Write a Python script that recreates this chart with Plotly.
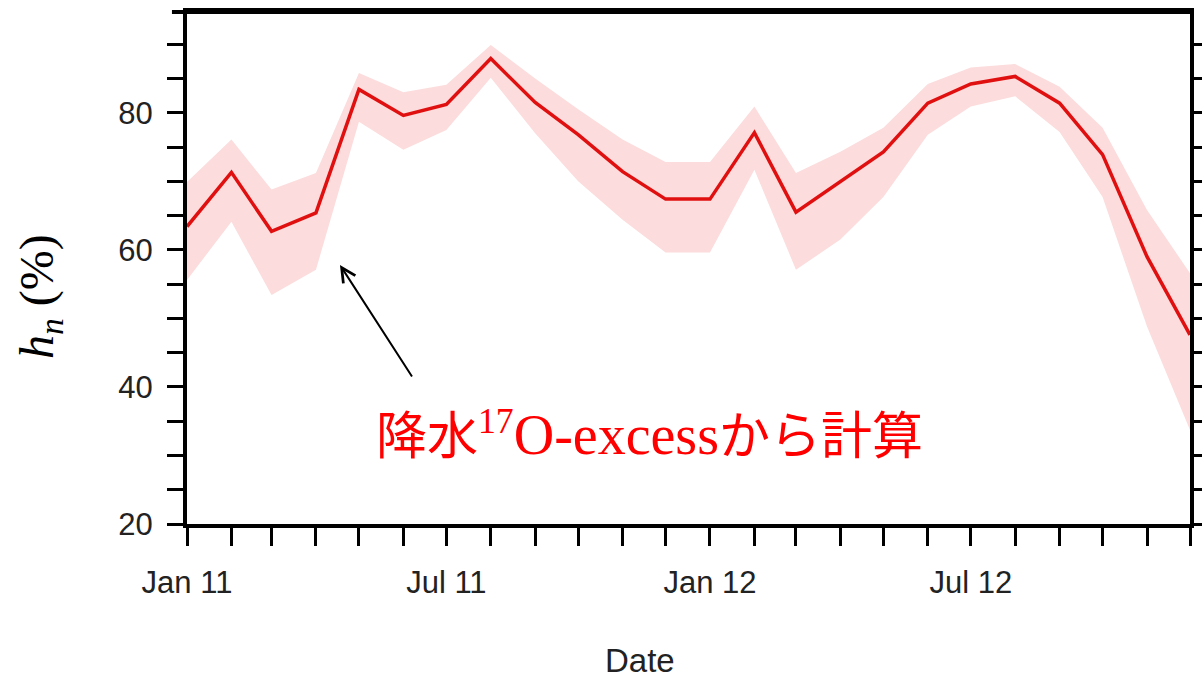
import plotly.graph_objects as go

# Monthly series, Jan 2011 - Dec 2012
months = ["2011-01-01", "2011-02-01", "2011-03-01", "2011-04-01", "2011-05-01", "2011-06-01",
          "2011-07-01", "2011-08-01", "2011-09-01", "2011-10-01", "2011-11-01", "2011-12-01",
          "2012-01-01", "2012-02-01", "2012-03-01", "2012-04-01", "2012-05-01", "2012-06-01",
          "2012-07-01", "2012-08-01", "2012-09-01", "2012-10-01", "2012-11-01", "2012-12-01"]
hn = [63.4, 71.3, 62.7, 65.4, 83.4, 79.6, 81.2, 87.9, 81.5, 76.8, 71.4, 67.4,
      67.4, 77.1, 65.5, 69.9, 74.3, 81.4, 84.2, 85.3, 81.4, 73.9, 59.0, 47.6]
hn_upper = [69.9, 76.1, 68.8, 71.2, 85.8, 83.0, 84.1, 89.9, 85.0, 80.5, 76.1, 72.8,
            72.8, 80.9, 71.2, 74.3, 77.8, 84.2, 86.6, 87.1, 83.8, 77.8, 65.8, 56.6]
hn_lower = [55.6, 64.1, 53.4, 57.1, 78.7, 74.6, 77.5, 85.1, 77.0, 70.0, 64.4, 59.6,
            59.6, 71.7, 57.1, 61.5, 67.7, 76.8, 80.9, 82.4, 77.2, 67.7, 48.8, 33.7]

x_label_months = {"2011-01-01": "Jan 11", "2011-07-01": "Jul 11",
                  "2012-01-01": "Jan 12", "2012-07-01": "Jul 12"}
y_tickvals = list(range(20, 95, 5))
y_ticktext = [str(v) if v % 20 == 0 else "" for v in y_tickvals]

band_color = "#fcdcdc"
line_color = "#e01010"

fig = go.Figure()
fig.add_trace(go.Scatter(x=months, y=hn_upper, mode="lines", line=dict(width=0, color=band_color),
                         showlegend=False, hoverinfo="skip"))
fig.add_trace(go.Scatter(x=months, y=hn_lower, mode="lines", line=dict(width=0, color=band_color),
                         fill="tonexty", fillcolor=band_color, showlegend=False, hoverinfo="skip"))
fig.add_trace(go.Scatter(x=months, y=hn, mode="lines", line=dict(width=3.5, color=line_color),
                         showlegend=False))

tick_font = dict(family="Liberation Sans, Arial, sans-serif", size=31, color="#222222")

fig.update_xaxes(
    type="date", range=["2011-01-01", "2012-12-01"],
    tickvals=months, ticktext=[x_label_months.get(m, "") for m in months],
    ticks="outside", ticklen=18, tickwidth=3, tickcolor="black",
    showline=True, linewidth=4, linecolor="black", mirror=True,
    showgrid=False, zeroline=False, tickfont=tick_font, tickangle=0,
    ticklabelstandoff=10,
)
fig.update_yaxes(
    range=[20, 94.7],
    tickvals=y_tickvals, ticktext=y_ticktext,
    ticks="outside", ticklen=16, tickwidth=3, tickcolor="black",
    showline=True, linewidth=4, linecolor="black", mirror="ticks",
    showgrid=False, zeroline=False, tickfont=tick_font,
    ticklabelstandoff=8,
)

# top frame line reaches slightly past the left axis
fig.add_shape(type="line", xref="paper", yref="paper", x0=-0.015, x1=1, y0=1, y1=1,
              line=dict(color="black", width=4))

# axis titles
fig.add_annotation(xref="paper", yref="paper", x=-0.1466, y=0.445, showarrow=False,
                   xanchor="center", yanchor="middle",
                   textangle=-90, text="<i>h<sub>n</sub></i> (%)",
                   font=dict(family="Liberation Serif, Times New Roman, serif", size=48, color="black"))
fig.add_annotation(xref="paper", yref="paper", x=0.4517, y=-0.266, showarrow=False,
                   xanchor="center", yanchor="middle",
                   text="Date", font=dict(family="Liberation Sans, Arial, sans-serif", size=33, color="#222222"))

# label with arrow
fig.add_annotation(xref="paper", yref="paper", x=0.1525, y=0.506, ax=73, ay=113,
                   showarrow=True, arrowhead=5, arrowsize=1.4, arrowwidth=2, arrowcolor="black", text="")
fig.add_annotation(
    xref="paper", yref="paper", x=0.4616, y=0.18, showarrow=False,
    xanchor="center", yanchor="middle",
    text=('降水<span style="font-family:Liberation Serif"><sup>17</sup></span>'
          '<span style="font-family:Liberation Serif;font-size:56px">O-excess</span>'
          'から計算'),
    font=dict(family="Noto Sans CJK JP", size=51, color="#ff0000"),
)

fig.update_layout(
    width=1202, height=681,
    margin=dict(l=187, r=12, t=12, b=157, autoexpand=False),
    plot_bgcolor="white", paper_bgcolor="white",
)

fig.write_html("out.html")
